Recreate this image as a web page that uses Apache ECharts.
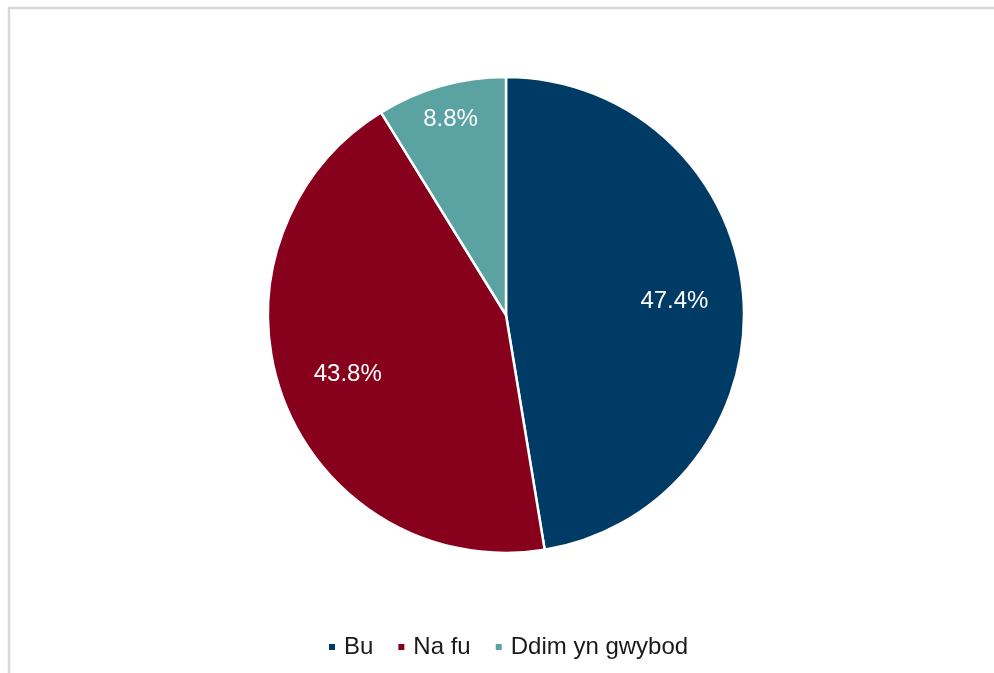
<!DOCTYPE html>
<html>
<head>
<meta charset="utf-8">
<script src="https://cdn.jsdelivr.net/npm/echarts@6/dist/echarts.min.js"></script>
<style>
  html, body { margin: 0; padding: 0; background: #fff; }
  #chart { width: 994px; height: 673px; }
</style>
</head>
<body>
<div id="chart"></div>
<script>
const categories = ['Bu', 'Na fu', 'Ddim yn gwybod'];
const values = [47.4, 43.8, 8.8];
const colors = ['#003B65', '#87001C', '#5BA2A3'];

const FONT = '"Liberation Sans", Arial, sans-serif';
const chart = echarts.init(document.getElementById('chart'));

const mainData = categories.map((c, i) => ({ name: c, value: values[i], itemStyle: { color: colors[i] } }));
const labelFmt = p => p.value.toFixed(1) + '%';
const labelStyle = { color: '#ffffff', fontSize: 24, fontFamily: FONT };

const makeLabelData = showIdx => categories.map((c, i) => ({
  name: c, value: values[i],
  label: { show: showIdx.includes(i) }
}));

const option = {
  animation: false,
  graphic: [{
    type: 'rect',
    shape: { x: 9, y: 8, width: 1000, height: 700 },
    style: { fill: 'none', stroke: '#d9d9d9', lineWidth: 2.5 },
    silent: true
  }],
  legend: {
    data: categories,
    left: 322,
    top: 630,
    icon: 'rect',
    itemWidth: 8,
    itemHeight: 8,
    itemGap: 23,
    textStyle: { fontSize: 24, fontFamily: FONT, color: '#1a1a1a', padding: [0, 0, 0, 3] },
    selectedMode: false
  },
  series: [
    {
      type: 'pie',
      center: [506, 315],
      radius: [0, 238],
      startAngle: 90,
      clockwise: true,
      label: { show: false },
      labelLine: { show: false },
      itemStyle: { borderColor: '#ffffff', borderWidth: 2.5 },
      emphasis: { disabled: true },
      data: mainData
    },
    {
      type: 'pie',
      center: [506, 315],
      radius: [94, 238],
      startAngle: 90,
      clockwise: true,
      silent: true,
      legendHoverLink: false,
      itemStyle: { color: 'rgba(0,0,0,0)' },
      label: Object.assign({ position: 'inside', formatter: labelFmt }, labelStyle),
      labelLine: { show: false },
      emphasis: { disabled: true },
      data: makeLabelData([0, 1])
    },
    {
      type: 'pie',
      center: [506, 315],
      radius: [162, 238],
      startAngle: 90,
      clockwise: true,
      silent: true,
      legendHoverLink: false,
      itemStyle: { color: 'rgba(0,0,0,0)' },
      label: Object.assign({ position: 'inside', formatter: labelFmt }, labelStyle),
      labelLine: { show: false },
      emphasis: { disabled: true },
      data: makeLabelData([2])
    }
  ]
};
chart.setOption(option);
</script>
</body>
</html>
